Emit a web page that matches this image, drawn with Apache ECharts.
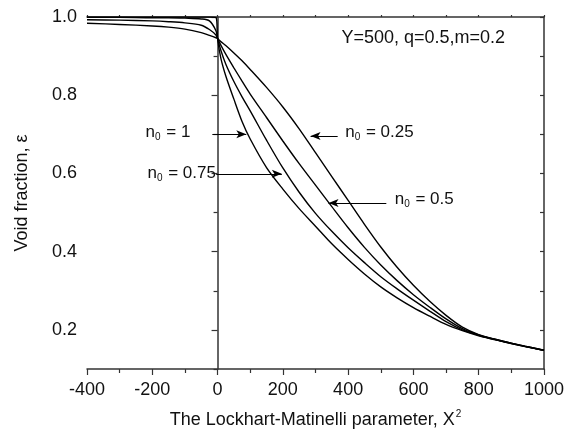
<!DOCTYPE html>
<html>
<head>
<meta charset="utf-8">
<script src="https://cdn.jsdelivr.net/npm/echarts@6/dist/echarts.min.js"></script>
<style>
  html, body { margin: 0; padding: 0; background: #fff; }
  #chart { width: 567px; height: 437px; }
</style>
</head>
<body>
<div id="chart"></div>
<script>
// X^2 sample points shared by all four curves
var xGrid = [-400, -300, -200, -150, -100, -50, -25, -5, 0, 10, 25, 50, 75, 100, 150, 200, 250, 300,
             350, 400, 450, 500, 550, 600, 650, 700, 750, 800, 850, 900, 950, 1000];

// void fraction, one array per n0
var epsN025 = [0.984, 0.981, 0.977, 0.974, 0.969, 0.960, 0.953, 0.947, 0.945, 0.937, 0.927, 0.908, 0.888, 0.866, 0.820, 0.770, 0.714, 0.653,
               0.592, 0.531, 0.470, 0.412, 0.360, 0.314, 0.273, 0.237, 0.207, 0.188, 0.176, 0.166, 0.157, 0.148];
var epsN05  = [0.993, 0.992, 0.990, 0.988, 0.985, 0.979, 0.968, 0.954, 0.945, 0.928, 0.905, 0.870, 0.836, 0.803, 0.743, 0.683, 0.625, 0.570,
               0.515, 0.461, 0.411, 0.366, 0.326, 0.290, 0.258, 0.228, 0.203, 0.187, 0.176, 0.166, 0.157, 0.148];
var epsN075 = [0.999, 0.999, 0.998, 0.998, 0.997, 0.995, 0.990, 0.965, 0.945, 0.915, 0.880, 0.835, 0.796, 0.760, 0.685, 0.614, 0.552, 0.498,
               0.452, 0.410, 0.372, 0.336, 0.305, 0.276, 0.248, 0.221, 0.200, 0.186, 0.175, 0.165, 0.156, 0.148];
var epsN1   = [1.000, 1.000, 1.000, 1.000, 1.000, 1.000, 1.000, 0.999, 0.945, 0.895, 0.850, 0.790, 0.733, 0.688, 0.615, 0.560, 0.510, 0.465,
               0.420, 0.380, 0.343, 0.310, 0.282, 0.257, 0.235, 0.214, 0.198, 0.185, 0.175, 0.165, 0.156, 0.148];

var yMajor = [0.2, 0.4, 0.6, 0.8, 1.0];
var yMinor = [0.1, 0.3, 0.5, 0.7, 0.9];
var yAll = [0.2, 0.3, 0.4, 0.5, 0.6, 0.7, 0.8, 0.9, 1.0];

// curve labels: text, label position, arrow start, arrow tip
var labelTexts = ['n{s|0} = 1', 'n{s|0} = 0.75', 'n{s|0} = 0.25', 'n{s|0} = 0.5'];
var labelAt = [[-152, 0.706], [-110, 0.601], [496, 0.706], [633, 0.535]];
var arrowFrom = [[-16, 0.700], [-4, 0.599], [368, 0.6955], [517, 0.5245]];
var arrowTo = [[88, 0.700], [197, 0.599], [285, 0.6955], [340, 0.5245]];

function pairs(ys) {
  return xGrid.map(function (x, i) { return [x, ys[i]]; });
}

var font = 'Liberation Sans, Arial, sans-serif';
var ink = '#111';
var axisInk = '#333';

function curve(name, ys) {
  return {
    name: name,
    type: 'line',
    data: pairs(ys),
    showSymbol: false,
    symbol: 'none',
    smooth: 0.3,
    lineStyle: { color: '#000', width: 1.4 },
    silent: true
  };
}

var series = [
  curve('n0=0.25', epsN025),
  curve('n0=0.5', epsN05),
  curve('n0=0.75', epsN075),
  curve('n0=1', epsN1)
];

var rich = { s: { fontSize: 10, fontFamily: font, color: ink, padding: [10, 1, 0, 0] } };

series[0].markLine = {
  silent: true,
  symbol: ['none', 'arrow'],
  symbolSize: [6, 10],
  label: { show: false },
  lineStyle: { color: '#000', width: 1, type: 'solid' },
  data: arrowFrom.map(function (p, i) {
    return [{ coord: p }, { coord: arrowTo[i] }];
  })
};
series[0].markPoint = {
  silent: true,
  symbol: 'circle',
  symbolSize: 0,
  label: { show: true, position: 'inside', color: ink, fontSize: 17, fontFamily: font, rich: rich },
  data: labelAt.map(function (p, i) {
    return { coord: p, label: { formatter: labelTexts[i] } };
  }).concat([{ coord: [630, 0.946], label: { formatter: 'Y=500, q=0.5,m=0.2', fontSize: 18 } }])
};

var option = {
  animation: false,
  backgroundColor: '#fff',
  grid: { left: 87, right: 21, top: 17, bottom: 68 },
  xAxis: [
    {
      type: 'value', position: 'bottom', min: -400, max: 1000, interval: 200,
      name: 'The Lockhart-Matinelli parameter, X{p|2}',
      nameLocation: 'middle', nameGap: 40,
      nameTextStyle: { fontSize: 18, fontFamily: font, color: ink,
        rich: { p: { fontSize: 10, fontFamily: font, color: ink, padding: [0, 0, 12, 1] } } },
      axisLine: { lineStyle: { color: axisInk, width: 1.5 } },
      axisTick: { inside: false, length: 6, lineStyle: { color: axisInk, width: 1.2 } },
      minorTick: { show: true, splitNumber: 2, length: 4, lineStyle: { color: axisInk, width: 1.2 } },
      axisLabel: { fontSize: 18, fontFamily: font, color: ink, margin: 12,
        formatter: function (v) { return String(v); } },
      splitLine: { show: false }
    },
    {
      type: 'value', position: 'top', min: -400, max: 1000, interval: 100,
      axisLine: { lineStyle: { color: axisInk, width: 1.5 } },
      axisTick: { inside: false, length: 2, lineStyle: { color: axisInk, width: 1.2 } },
      axisLabel: { show: false },
      splitLine: { show: false }
    }
  ],
  yAxis: [
    {
      type: 'value', position: 'left', min: 0.1, max: 1.0,
      name: 'Void fraction, ε',
      nameLocation: 'middle', nameGap: 56, nameRotate: 90,
      nameTextStyle: { fontSize: 18, fontFamily: font, color: ink },
      axisLine: { lineStyle: { color: axisInk, width: 1.5 } },
      axisTick: { inside: false, length: 6, customValues: yMajor, lineStyle: { color: axisInk, width: 1.2 } },
      axisLabel: { fontSize: 18, fontFamily: font, color: ink, margin: 10, customValues: yMajor,
        formatter: function (v) { return v.toFixed(1); } },
      splitLine: { show: false }
    },
    {
      type: 'value', position: 'left', min: 0.1, max: 1.0,
      axisLine: { show: false },
      axisTick: { inside: false, length: 4, customValues: yMinor, lineStyle: { color: axisInk, width: 1.2 } },
      axisLabel: { show: false, customValues: yMinor },
      splitLine: { show: false }
    },
    {
      type: 'value', position: 'right', min: 0.1, max: 1.0,
      axisLine: { lineStyle: { color: axisInk, width: 1.5 } },
      axisTick: { inside: true, length: 4, customValues: yAll, lineStyle: { color: axisInk, width: 1.2 } },
      axisLabel: { show: false, customValues: yAll },
      splitLine: { show: false }
    }
  ],
  series: series
};

var chart = echarts.init(document.getElementById('chart'), null, { renderer: 'canvas' });
chart.setOption(option);
</script>
</body>
</html>
